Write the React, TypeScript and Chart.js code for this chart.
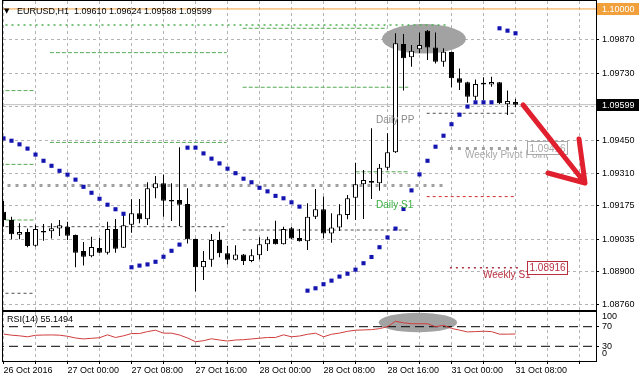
import React, { useEffect, useRef } from 'react';
import { Chart, registerables } from 'chart.js';

Chart.register(...registerables);

const FONT = "'Liberation Sans', Arial, sans-serif";
const SYMBOL = 'EURUSD,H1';

// ---------- candle data (H1 bars, index 0 = 26 Oct 16:00) ----------
const opens = [1.09151, 1.09116, 1.09054, 1.09066, 1.09008, 1.09070, 1.09069, 1.09080, 1.09088, 1.09053,
  1.08986, 1.08964, 1.08999, 1.08979, 1.09078, 1.09000, 1.09096, 1.09144, 1.09119, 1.09249,
  1.09270, 1.09200, 1.09200, 1.09183, 1.09036, 1.08918, 1.08949, 1.09032, 1.08977, 1.08949,
  1.08972, 1.08944, 1.08968, 1.09014, 1.09036, 1.09014, 1.09081, 1.09041, 1.09027, 1.09130,
  1.09161, 1.09059, 1.09085, 1.09137, 1.09209, 1.09266, 1.09279, 1.09270, 1.09335, 1.09400,
  1.09853, 1.09798, 1.09831, 1.09909, 1.09839, 1.09779, 1.09820, 1.09710, 1.09693, 1.09632,
  1.09691, 1.09684, 1.09693, 1.09601, 1.09610];
const highs = [1.09196, 1.09130, 1.09102, 1.09080, 1.09096, 1.09099, 1.09102, 1.09116, 1.09109, 1.09055,
  1.09024, 1.09046, 1.09041, 1.09109, 1.09120, 1.09144, 1.09203, 1.09204, 1.09274, 1.09300,
  1.09307, 1.09270, 1.09421, 1.09249, 1.09038, 1.08986, 1.09057, 1.09067, 1.09008, 1.09010,
  1.08974, 1.08993, 1.09044, 1.09046, 1.09113, 1.09088, 1.09088, 1.09078, 1.09186, 1.09246,
  1.09214, 1.09144, 1.09182, 1.09221, 1.09356, 1.09325, 1.09500, 1.09351, 1.09479, 1.09898,
  1.09895, 1.09849, 1.09901, 1.09912, 1.09901, 1.09835, 1.09821, 1.09751, 1.09695, 1.09705,
  1.09714, 1.09716, 1.09694, 1.09658, 1.09624];
const lows = [1.09088, 1.09035, 1.09035, 1.09002, 1.09004, 1.09029, 1.09039, 1.09049, 1.09032, 1.08918,
  1.08925, 1.08960, 1.08978, 1.08971, 1.08979, 1.08999, 1.09063, 1.09102, 1.09095, 1.09207,
  1.09130, 1.09112, 1.09091, 1.09018, 1.08817, 1.08865, 1.08920, 1.08960, 1.08930, 1.08946,
  1.08928, 1.08939, 1.08951, 1.08986, 1.09013, 1.09013, 1.09036, 1.09026, 1.08990, 1.09120,
  1.09039, 1.09021, 1.09070, 1.09119, 1.09116, 1.09120, 1.09204, 1.09239, 1.09325, 1.09397,
  1.09658, 1.09758, 1.09814, 1.09786, 1.09772, 1.09758, 1.09672, 1.09661, 1.09607, 1.09619,
  1.09619, 1.09674, 1.09602, 1.09556, 1.09588];
const closes = [1.09116, 1.09056, 1.09066, 1.09007, 1.09078, 1.09064, 1.09081, 1.09094, 1.09050, 1.08979,
  1.08962, 1.09003, 1.08979, 1.09078, 1.08996, 1.09094, 1.09144, 1.09119, 1.09249, 1.09270,
  1.09197, 1.09194, 1.09180, 1.09035, 1.08918, 1.08944, 1.09032, 1.08977, 1.08949, 1.08972,
  1.08944, 1.08968, 1.09014, 1.09035, 1.09014, 1.09078, 1.09038, 1.09027, 1.09130, 1.09161,
  1.09059, 1.09085, 1.09140, 1.09207, 1.09266, 1.09284, 1.09272, 1.09335, 1.09400, 1.09856,
  1.09793, 1.09825, 1.09849, 1.09839, 1.09779, 1.09821, 1.09710, 1.09691, 1.09632, 1.09686,
  1.09684, 1.09694, 1.09605, 1.09614, 1.09599];

// Parabolic SAR
const sar = [1.09458, 1.09448, 1.09433, 1.09415, 1.09390, 1.09364, 1.09343, 1.09322, 1.09306, 1.09285,
  1.09255, 1.09230, 1.09205, 1.09180, 1.09161, 1.09142, 1.08918, 1.08925, 1.08930, 1.08941,
  1.08962, 1.08987, 1.09013, 1.09419, 1.09419, 1.09395, 1.09373, 1.09353, 1.09331, 1.09312,
  1.09289, 1.09274, 1.09251, 1.09236, 1.09217, 1.09207, 1.09190, 1.09172, 1.08820, 1.08830,
  1.08847, 1.08862, 1.08879, 1.08891, 1.08908, 1.08935, 1.08961, 1.09002, 1.09043, 1.09080,
  1.09162, 1.09240, 1.09307, 1.09364, 1.09423, 1.09469, 1.09517, 1.09557, 1.09591, 1.09609,
  1.09609, 1.09609, 1.09919, 1.09909, 1.09898];

// RSI(14)
const rsi = [55, 52.7, 51.4, 49.4, 52.5, 53, 53.2, 52.7, 50.5, 47,
  45, 46.3, 47.5, 53.4, 48, 51.4, 56, 56, 60, 62.8,
  56.8, 56.8, 53, 47, 39.4, 41.4, 45.4, 42.8, 40.8, 42.8,
  43.5, 45, 46.5, 48, 48, 53.4, 49.4, 51, 54.5, 56.8,
  49.4, 54.5, 57, 60.5, 62.8, 63.4, 64, 66, 70, 81,
  78, 76, 76, 76, 70, 72.8, 66.5, 63, 59.4, 60,
  60.8, 60, 54.8, 54.8, 55.1494];
const rsiLevels = [30, 70];

// time axis labels, one every 8 bars
const timeLabels = ['26 Oct 2016', '27 Oct 00:00', '27 Oct 08:00', '27 Oct 16:00', '28 Oct 00:00',
  '28 Oct 08:00', '28 Oct 16:00', '31 Oct 00:00', '31 Oct 08:00'];
const gridBars = [0, 4, 8, 12, 16, 20, 24, 28, 32, 36, 40, 44, 48, 52, 56, 60, 64, 68, 72];

// price axis
const priceTicks = [1.0876, 1.089, 1.09035, 1.09175, 1.0931, 1.0945, 1.0959, 1.0973, 1.0987];
const hiddenTick = 1.0959;
const alertLevel = 1.1;

// pivot level segments (bar index from/to, price, kind)
const levelStart = [-0.5, -0.5, 55.8, 55.8, -0.5, -0.5, -0.5, -0.5, -0.5, 5.8, 5.8, 29.9, 29.9, 29.9, 44, 52.9, 52.9];
const levelEnd = [55.4, 55.4, 64.3, 64.3, 3.9, 3.9, 3.9, 3.9, 27.9, 27.9, 27.9, 48, 50.6, 50.6, 50.6, 63.9, 63.9];
const levelPrice = [1.09933, 1.09261, 1.09416, 1.08916, 1.09658, 1.09349, 1.09116, 1.08809, 1.09088, 1.09817, 1.09441, 1.09919, 1.09672, 1.09074, 1.09318, 1.09563, 1.09214];
const levelKind = ['wR1', 'wPivot', 'wPivot', 'wS1', 'dGreen', 'dGreen', 'dGreen', 'dGray', 'dGray', 'dGreen', 'dGreen', 'dGreen', 'dGreen', 'dGray', 'dGreen', 'dGray', 'dRed'];

// text annotations (bar index of left edge, price of centre)
const noteText = ['Daily PP', 'Daily S1', 'Weekly Pivot Point', 'Weekly S1'];
const noteBar = [46.56, 46.56, 57.69, 59.94];
const notePrice = [1.09535, 1.09179, 1.09388, 1.08884];
const noteKind = ['gray', 'green', 'lightgray', 'red'];

// price tags next to weekly levels
const tagPrice = [1.09416, 1.08916];
const tagKind = ['lightgray', 'red'];
const tagBarFrom = 65.44;
const tagBarTo = 70.44;

// drawn objects (bar index / price units)
const topEllipse = { bar: 52.56, price: 1.09875, dBar: 5.25, dPrice: 0.000616 };
const rsiEllipse = { bar: 51.8, value: 78.6, dBar: 4.9, dValue: 20 };
const arrowBars = [64.94, 72.69, 68.06, 71.94];
const arrowPrices = [1.09598, 1.09271, 1.09313, 1.09455];

// ---------- styles ----------
const X_MIN = -0.0625;
const X_MAX = 74.0625;
const Y_MAX = 1.1003331;
const Y_MIN = 1.0873901;
const GRID = '#b4b4b4';
const ELLIPSE_FILL = '#a2a2a2';
const LEVEL_STYLE: any = {
  alert: { color: '#f2a03c', width: 1, dash: [] },
  bid: { color: '#c0c0c0', width: 1, dash: [] },
  wR1: { color: '#4caf50', width: 1.5, dash: [2, 4] },
  wPivot: { color: '#a0a0a0', width: 3, dash: [3, 5] },
  wS1: { color: '#b03040', width: 1.5, dash: [2, 4] },
  dGreen: { color: '#55aa55', width: 1, dash: [4, 2] },
  dGray: { color: '#505050', width: 1, dash: [3, 3] },
  dRed: { color: '#d03030', width: 1, dash: [3, 3] },
};
const NOTE_COLOR: any = { gray: '#8a8a8a', green: '#3cb043', lightgray: '#a8a8a8', red: '#b83040' };

const zeroPad = (s: any) => {
  s.paddingTop = 0; s.paddingBottom = 0; s.paddingLeft = 0; s.paddingRight = 0;
};

function levelDataset(from: number, to: number, price: number, kind: string) {
  const st = LEVEL_STYLE[kind];
  return {
    type: 'line',
    data: [{ x: from, y: price }, { x: to, y: price }],
    borderColor: st.color,
    borderWidth: st.width,
    borderDash: st.dash,
    pointRadius: 0,
    pointHoverRadius: 0,
    fill: false,
    order: 10,
  };
}

function mainConfig(): any {
  const n = closes.length;
  const idx = closes.map((_, i) => i);
  const bid = closes[n - 1];
  const datasets: any[] = [
    {
      type: 'line',
      data: sar.map((v, i) => ({ x: i, y: v })),
      showLine: false,
      pointStyle: 'rect',
      pointRadius: 2.9,
      pointHoverRadius: 2.9,
      pointBackgroundColor: '#1414b0',
      pointBorderWidth: 0,
      order: 0,
    },
    {
      type: 'bar',
      data: idx.map((i) => ({ x: i, y: [opens[i], closes[i]] })),
      backgroundColor: idx.map((i) => (closes[i] >= opens[i] ? '#ffffff' : '#000000')),
      borderColor: '#000000',
      borderWidth: 1,
      borderSkipped: false,
      inflateAmount: 0,
      barThickness: 5,
      grouped: false,
      order: 1,
    },
    {
      type: 'bar',
      data: idx.map((i) => ({ x: i, y: [lows[i], highs[i]] })),
      backgroundColor: '#000000',
      borderWidth: 0,
      inflateAmount: 0,
      barThickness: 1,
      grouped: false,
      order: 2,
    },
    levelDataset(X_MIN - 1, X_MAX + 1, alertLevel, 'alert'),
    levelDataset(X_MIN - 1, X_MAX + 1, bid, 'bid'),
    ...levelPrice.map((p, i) => levelDataset(levelStart[i], levelEnd[i], p, levelKind[i])),
  ];

  const overlay = {
    id: 'mainOverlay',
    beforeDatasetsDraw(chart: any) {
      const { ctx, scales } = chart;
      const x = scales.x, y = scales.y;
      const cx = x.getPixelForValue(topEllipse.bar);
      const cy = y.getPixelForValue(topEllipse.price);
      const rx = Math.abs(x.getPixelForValue(topEllipse.bar + topEllipse.dBar) - cx);
      const ry = Math.abs(y.getPixelForValue(topEllipse.price + topEllipse.dPrice) - cy);
      ctx.save();
      ctx.fillStyle = ELLIPSE_FILL;
      ctx.beginPath();
      ctx.ellipse(cx, cy, rx, ry, 0, 0, Math.PI * 2);
      ctx.fill();
      ctx.restore();
    },
    afterDraw(chart: any) {
      const { ctx, scales, chartArea: a } = chart;
      const x = scales.x, y = scales.y;
      ctx.save();
      // panel border
      ctx.strokeStyle = '#000';
      ctx.lineWidth = 1;
      ctx.strokeRect(a.left - 0.5, a.top - 0.5, a.right - a.left + 1, a.bottom - a.top + 1);

      // notes
      ctx.font = `10px ${FONT}`;
      ctx.textBaseline = 'middle';
      ctx.textAlign = 'left';
      noteText.forEach((t, i) => {
        ctx.fillStyle = NOTE_COLOR[noteKind[i]];
        ctx.fillText(t, x.getPixelForValue(noteBar[i]), y.getPixelForValue(notePrice[i]));
      });

      // price tags
      tagPrice.forEach((p, i) => {
        const col = NOTE_COLOR[tagKind[i]];
        const x0 = Math.round(x.getPixelForValue(tagBarFrom)) + 0.5;
        const x1 = Math.round(x.getPixelForValue(tagBarTo)) + 0.5;
        const yc = y.getPixelForValue(p);
        ctx.fillStyle = '#ffffff';
        ctx.fillRect(x0, Math.round(yc) - 6.5, x1 - x0, 13);
        ctx.strokeStyle = col;
        ctx.lineWidth = 1;
        ctx.strokeRect(x0, Math.round(yc) - 6.5, x1 - x0, 13);
        ctx.fillStyle = col;
        ctx.fillText(p.toFixed(5), x0 + 2, yc + 0.5);
      });

      // arrow
      const px = arrowBars.map((b) => x.getPixelForValue(b));
      const py = arrowPrices.map((p) => y.getPixelForValue(p));
      ctx.strokeStyle = '#e0202e';
      ctx.lineWidth = 5;
      ctx.lineCap = 'round';
      ctx.lineJoin = 'round';
      ctx.beginPath();
      ctx.moveTo(px[0], py[0]);
      ctx.lineTo(px[1], py[1]);
      ctx.moveTo(px[2], py[2]);
      ctx.lineTo(px[1], py[1]);
      ctx.lineTo(px[3], py[3]);
      ctx.stroke();

      // axis price boxes
      ctx.font = `9px ${FONT}`;
      const boxes = [
        { v: alertLevel, bg: '#f2a03c' },
        { v: bid, bg: '#000000' },
      ];
      boxes.forEach((b) => {
        const yc = Math.round(y.getPixelForValue(b.v));
        ctx.fillStyle = b.bg;
        ctx.fillRect(a.right + 1, yc - 6, 639 - a.right - 1, 12);
        ctx.fillStyle = '#ffffff';
        ctx.fillText(b.v.toFixed(5), a.right + 6, yc + 0.5);
      });

      // title
      ctx.fillStyle = '#000';
      ctx.font = `7px 'DejaVu Sans', sans-serif`;
      ctx.fillText('\u25BC', 4, 11);
      ctx.font = `9px ${FONT}`;
      const last = n - 1;
      ctx.fillText(
        `${SYMBOL}  ${opens[last].toFixed(5)} ${highs[last].toFixed(5)} ${lows[last].toFixed(5)} ${closes[last].toFixed(5)}`,
        17, 11.5
      );
      ctx.restore();
    },
  };

  return {
    type: 'bar',
    data: { datasets },
    plugins: [overlay],
    options: {
      responsive: false,
      animation: false,
      devicePixelRatio: 1,
      events: [],
      layout: { padding: { left: 3, right: 0, top: 1, bottom: 1 }, autoPadding: false },
      plugins: { legend: { display: false }, tooltip: { enabled: false } },
      scales: {
        x: {
          type: 'linear',
          min: X_MIN,
          max: X_MAX,
          offset: false,
          grid: { color: GRID, lineWidth: 1, drawTicks: false, offset: false },
          border: { display: false, dash: [3, 3] },
          ticks: { display: false },
          afterBuildTicks: (s: any) => { s.ticks = gridBars.map((v) => ({ value: v })); },
          afterFit: (s: any) => { s.height = 0; zeroPad(s); },
        },
        y: {
          type: 'linear',
          position: 'right',
          min: Y_MIN,
          max: Y_MAX,
          grid: { color: GRID, lineWidth: 1, tickColor: '#000', tickLength: 3, drawTicks: true },
          border: { display: false, dash: [3, 3] },
          ticks: {
            autoSkip: false,
            font: { family: FONT, size: 9 },
            color: '#000',
            padding: 3,
            callback: (v: any) => (Math.abs(v - hiddenTick) < 1e-7 ? '' : Number(v).toFixed(5)),
          },
          afterBuildTicks: (s: any) => { s.ticks = priceTicks.map((v) => ({ value: v })); },
          afterFit: (s: any) => { s.width = 43; zeroPad(s); },
        },
      },
    },
  };
}

function rsiConfig(): any {
  const n = rsi.length;
  const datasets: any[] = [
    {
      data: rsi.map((v, i) => ({ x: i, y: v })),
      borderColor: '#d03c3c',
      borderWidth: 1,
      pointRadius: 0,
      pointHoverRadius: 0,
      fill: false,
      tension: 0,
      order: 0,
    },
    ...rsiLevels.map((lv) => ({
      data: [{ x: X_MIN - 1, y: lv }, { x: X_MAX + 1, y: lv }],
      borderColor: '#000000',
      borderWidth: 1,
      borderDash: [9, 5],
      pointRadius: 0,
      pointHoverRadius: 0,
      fill: false,
      order: 1,
    })),
  ];

  const overlay = {
    id: 'rsiOverlay',
    beforeDatasetsDraw(chart: any) {
      const { ctx, scales } = chart;
      const x = scales.x, y = scales.y;
      const cx = x.getPixelForValue(rsiEllipse.bar);
      const cy = y.getPixelForValue(rsiEllipse.value);
      const rx = Math.abs(x.getPixelForValue(rsiEllipse.bar + rsiEllipse.dBar) - cx);
      const ry = Math.abs(y.getPixelForValue(rsiEllipse.value + rsiEllipse.dValue) - cy);
      ctx.save();
      ctx.fillStyle = ELLIPSE_FILL;
      ctx.beginPath();
      ctx.ellipse(cx, cy, rx, ry, 0, 0, Math.PI * 2);
      ctx.fill();
      ctx.restore();
    },
    afterDraw(chart: any) {
      const { ctx, chartArea: a } = chart;
      ctx.save();
      ctx.strokeStyle = '#000';
      ctx.lineWidth = 1;
      ctx.strokeRect(a.left - 0.5, a.top - 0.5, a.right - a.left + 1, a.bottom - a.top + 1);
      ctx.fillStyle = '#000';
      ctx.font = `9px ${FONT}`;
      ctx.textBaseline = 'middle';
      ctx.textAlign = 'left';
      ctx.fillText(`RSI(14) ${rsi[n - 1].toFixed(4)}`, 7, 8.5);
      ctx.fillText('100', a.right + 6, 6);
      ctx.fillText('0', a.right + 6, 43);
      ctx.restore();
    },
  };

  return {
    type: 'line',
    data: { datasets },
    plugins: [overlay],
    options: {
      responsive: false,
      animation: false,
      devicePixelRatio: 1,
      events: [],
      layout: { padding: { left: 3, right: 0, top: 1, bottom: 0 }, autoPadding: false },
      plugins: { legend: { display: false }, tooltip: { enabled: false } },
      scales: {
        x: {
          type: 'linear',
          min: X_MIN,
          max: X_MAX,
          offset: false,
          grid: { color: GRID, lineWidth: 1, tickColor: '#000', tickLength: 3, offset: false },
          border: { display: false, dash: [3, 3] },
          ticks: {
            autoSkip: false,
            maxRotation: 0,
            minRotation: 0,
            align: 'start',
            padding: 1,
            font: { family: FONT, size: 9 },
            color: '#000',
            callback: (v: any) => (v % 8 === 0 && timeLabels[v / 8] ? timeLabels[v / 8] : ''),
          },
          afterBuildTicks: (s: any) => { s.ticks = gridBars.map((v) => ({ value: v })); },
          afterFit: (s: any) => { s.height = 21; zeroPad(s); },
        },
        y: {
          type: 'linear',
          position: 'right',
          min: 0,
          max: 100,
          grid: { drawOnChartArea: false, tickColor: '#000', tickLength: 3 },
          border: { display: false },
          ticks: { autoSkip: false, font: { family: FONT, size: 9 }, color: '#000', padding: 3 },
          afterBuildTicks: (s: any) => { s.ticks = rsiLevels.map((v) => ({ value: v })); },
          afterFit: (s: any) => { s.width = 43; zeroPad(s); },
        },
      },
    },
  };
}

export default function App() {
  const mainRef = useRef<HTMLCanvasElement>(null);
  const rsiRef = useRef<HTMLCanvasElement>(null);
  useEffect(() => {
    document.body.style.margin = '0';
    const c1 = new Chart(mainRef.current as HTMLCanvasElement, mainConfig());
    const c2 = new Chart(rsiRef.current as HTMLCanvasElement, rsiConfig());
    return () => {
      c1.destroy();
      c2.destroy();
    };
  }, []);
  return (
    <div style={{ position: 'relative', width: 639, height: 382, background: '#fff', overflow: 'hidden' }}>
      <canvas ref={mainRef} width={639} height={311}
        style={{ position: 'absolute', left: 0, top: 0, width: 639, height: 311 }} />
      <canvas ref={rsiRef} width={639} height={71}
        style={{ position: 'absolute', left: 0, top: 311, width: 639, height: 71 }} />
    </div>
  );
}
